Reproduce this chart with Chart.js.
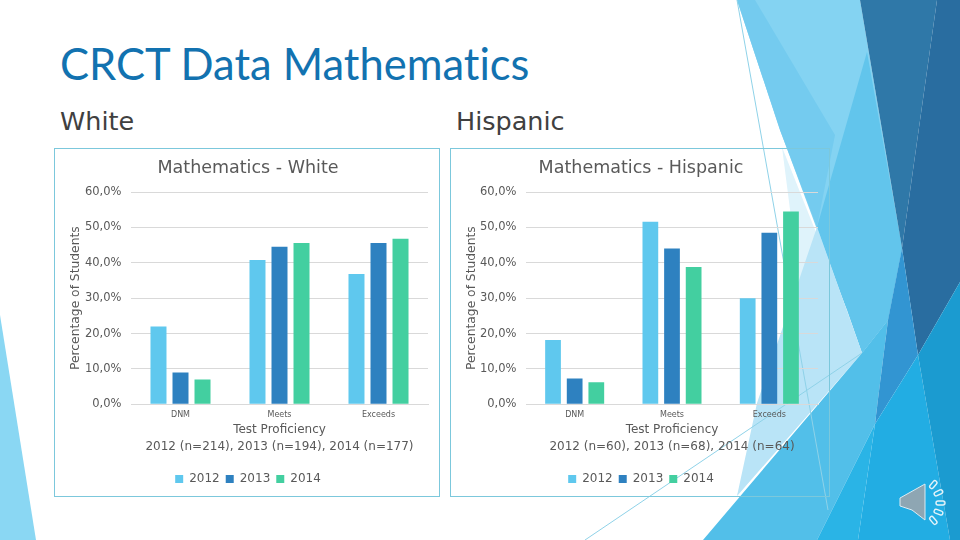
<!DOCTYPE html>
<html>
<head>
<meta charset="utf-8">
<title>CRCT Data Mathematics</title>
<script src="https://cdn.jsdelivr.net/npm/chart.js@4"></script>
<style>
  html, body { margin: 0; padding: 0; background: #fff; }
  #slide { position: relative; width: 960px; height: 540px; overflow: hidden; background: #fff; font-family: "DejaVu Sans", sans-serif; }
  #bg { position: absolute; left: 0; top: 0; }
  .txt { position: absolute; white-space: nowrap; }
  #heading { left: 60px; top: 37px; font-family: Lato, sans-serif; font-size: 43.5px; font-variant-ligatures: none; color: #1272b0; }
  .sub { top: 106px; font-size: 25.5px; color: #404040; }
  .frame { position: absolute; box-sizing: border-box; border: 1px solid #7cc8dc; }
  .frame canvas { position: absolute; left: 0; top: 0; }
</style>
</head>
<body>
<div id="slide">
  <svg id="bg" width="960" height="540" viewBox="0 0 960 540">
    <polygon points="0,315 0,540 36,540" fill="#8ad7f3"/>
    <polygon points="737,0 860,0 902,248 888,320 862,353 847,310 780,130" fill="#84d3f2"/>
    <polygon points="737,0 755,0 835,135 817,227 780,130" fill="#74cbef"/>
    <polygon points="867,52 902,248 888,320 862,353 817,227" fill="#62c5ec"/>
    <polygon points="782,147 847,310 862,353 737,496 799,280" fill="#dff3fb"/>
    <polygon points="817,227 862,353 737,496 757,403 799,280" fill="#b9e4f7"/>
    <polygon points="860,0 937,0 902,248" fill="#2f78a8"/>
    <polygon points="937,0 960,0 960,282 918,355 902,248" fill="#296da0"/>
    <polygon points="720,520 862,353 888,320 878,399 875,424 817,540 703,540" fill="#52bfe9"/>
    <polygon points="888,320 902,248 918,355 875,424 878,399" fill="#3295d2"/>
    <polygon points="918,355 950,540 858,540 875,424" fill="#22ade3"/>
    <polygon points="875,424 858,540 817,540" fill="#2ab4e6"/>
    <polygon points="918,355 960,282 960,540 950,540" fill="#1b9bd0"/>
    <line x1="737" y1="0" x2="828" y2="510" stroke="#8fd2e8" stroke-width="1"/>
    <line x1="862" y1="353" x2="585" y2="540" stroke="#8fd2e8" stroke-width="1"/>
    <polygon points="900,498 925,484 925,520 912,510 900,506" fill="#8ea6b3" stroke="#dcebf2" stroke-width="1"/>
    <g fill="none" stroke="#e4f3f9" stroke-width="1.4">
      <rect x="929" y="483" width="9" height="4" rx="2" transform="rotate(-50 933 485)"/>
      <rect x="934" y="491" width="9" height="4" rx="2" transform="rotate(-25 938 493)"/>
      <rect x="936" y="501" width="9" height="4" rx="2"/>
      <rect x="934" y="510" width="9" height="4" rx="2" transform="rotate(20 938 512)"/>
      <rect x="929" y="518" width="9" height="4" rx="2" transform="rotate(50 933 520)"/>
    </g>
  </svg>
  <div class="txt" id="heading">CRCT Data Mathematics</div>
  <div class="txt sub" style="left:60px">White</div>
  <div class="txt sub" style="left:456px">Hispanic</div>
  <div class="frame" style="left:54px;top:148px;width:386px;height:349px"><canvas id="chartWhite" width="384" height="347"></canvas></div>
  <div class="frame" style="left:450px;top:148px;width:380px;height:349px"><canvas id="chartHispanic" width="378" height="347"></canvas></div>
</div>
<script>
var categories = ['DNM', 'Meets', 'Exceeds'];
var years = ['2012', '2013', '2014'];
var yearColors = ['#5fc8ee', '#2e81c0', '#43cfa0'];

var white2012 = [22.0, 40.8, 36.8];
var white2013 = [9.0, 44.5, 45.6];
var white2014 = [7.0, 45.6, 46.8];

var hispanic2012 = [18.2, 51.6, 30.0];
var hispanic2013 = [7.3, 44.0, 48.5];
var hispanic2014 = [6.2, 38.8, 54.5];

var textColor = '#595959';
var fontName = '"DejaVu Sans", sans-serif';

function makeChart(id, title, xTitle, series, yWidth, paddingRight) {
  var canvas = document.getElementById(id);
  return new Chart(canvas.getContext('2d'), {
    type: 'bar',
    data: {
      labels: categories,
      datasets: years.map(function (year, i) {
        return {
          label: year,
          data: series[i],
          backgroundColor: yearColors[i],
          categoryPercentage: 0.667,
          barPercentage: 0.727
        };
      })
    },
    options: {
      responsive: false,
      animation: false,
      layout: { padding: { left: 13, right: paddingRight, top: 9, bottom: 1 } },
      plugins: {
        title: {
          display: true,
          text: title,
          color: textColor,
          font: { family: fontName, size: 17.5, weight: 'normal' },
          padding: { top: 0, bottom: 13 }
        },
        legend: {
          position: 'bottom',
          labels: {
            color: textColor,
            boxWidth: 8,
            boxHeight: 8,
            padding: 6,
            font: { family: fontName, size: 12 }
          }
        },
        tooltip: { enabled: false }
      },
      scales: {
        x: {
          grid: { display: false },
          border: { color: '#d9d9d9' },
          ticks: { color: textColor, font: { family: fontName, size: 8 }, maxRotation: 0, padding: -2 },
          title: {
            display: true,
            text: xTitle,
            color: textColor,
            font: { family: fontName, size: 12, weight: 'normal', lineHeight: 1.4 },
            padding: { top: 3.5, bottom: 12 }
          }
        },
        y: {
          min: 0,
          max: 60,
          afterFit: function (scale) { scale.width = yWidth; },
          grid: { color: '#d9d9d9', drawTicks: false },
          border: { display: false },
          ticks: {
            stepSize: 10,
            color: textColor,
            padding: 9.5,
            font: { family: fontName, size: 11.5 },
            callback: function (v) { return v.toFixed(1).replace('.', ',') + '%'; }
          },
          title: {
            display: true,
            text: 'Percentage of Students',
            color: textColor,
            font: { family: fontName, size: 12.3, weight: 'normal' },
            padding: 0
          }
        }
      }
    }
  });
}

makeChart('chartWhite', 'Mathematics - White',
  ['Test Proficiency', '2012 (n=214), 2013 (n=194), 2014 (n=177)'],
  [white2012, white2013, white2014], 63, 11);
makeChart('chartHispanic', 'Mathematics - Hispanic',
  ['Test Proficiency', '2012 (n=60), 2013 (n=68), 2014 (n=64)'],
  [hispanic2012, hispanic2013, hispanic2014], 62, 11);
</script>
</body>
</html>
